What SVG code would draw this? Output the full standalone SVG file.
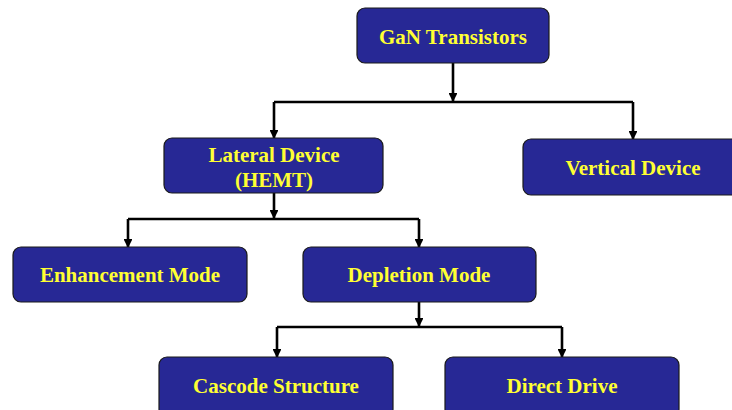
<svg xmlns="http://www.w3.org/2000/svg" width="732" height="410" viewBox="0 0 732 410">
  <style>
    .box { fill: #272895; stroke: #1a1a1a; stroke-width: 1.2; }
    .label { font-family: "Liberation Serif", "Times New Roman", serif; font-weight: bold; font-size: 21px; fill: #FFFF33; text-anchor: middle; }
    .wire { fill: none; stroke: #000; stroke-width: 2.6; stroke-linejoin: miter; }
    .arrow { fill: none; stroke: #000; stroke-width: 2.6; marker-end: url(#head); }
  </style>
  <defs>
    <marker id="head" viewBox="0 0 10 10" refX="9" refY="5" markerWidth="3.4" markerHeight="3.4" markerUnits="strokeWidth" orient="auto">
      <path d="M0,0 L10,5 L0,10 z" fill="#000"/>
    </marker>
  </defs>
  <rect width="732" height="410" fill="#fff"/>

  <!-- connectors -->
  <g id="connectors">
    <!-- root to first level -->
    <path class="arrow" d="M453,63 V101"/>
    <path class="wire" d="M274,102 H633"/>
    <path class="arrow" d="M274,102 V138"/>
    <path class="arrow" d="M633,102 V139"/>
    <!-- lateral device to modes -->
    <path class="arrow" d="M274,193 V218"/>
    <path class="wire" d="M128,219 H419"/>
    <path class="arrow" d="M128,219 V247"/>
    <path class="arrow" d="M419,219 V247"/>
    <!-- depletion mode to drive schemes -->
    <path class="arrow" d="M419,302 V326"/>
    <path class="wire" d="M277,327 H562"/>
    <path class="arrow" d="M277,327 V357"/>
    <path class="arrow" d="M562,327 V357"/>
  </g>

  <g id="gan-transistors">
    <rect class="box" x="357" y="8" width="192" height="55" rx="8"/>
    <text class="label" x="453" y="44">GaN Transistors</text>
  </g>

  <g id="lateral-device">
    <rect class="box" x="164" y="138" width="219" height="55" rx="8"/>
    <text class="label" x="274" y="162">Lateral Device</text>
    <text class="label" x="274" y="187">(HEMT)</text>
  </g>

  <g id="vertical-device">
    <rect class="box" x="523" y="139" width="218" height="56" rx="8"/>
    <text class="label" x="633" y="175">Vertical Device</text>
  </g>

  <g id="enhancement-mode">
    <rect class="box" x="13" y="247" width="234" height="55" rx="8"/>
    <text class="label" x="130" y="282">Enhancement Mode</text>
  </g>

  <g id="depletion-mode">
    <rect class="box" x="303" y="247" width="233" height="55" rx="8"/>
    <text class="label" x="419" y="282">Depletion Mode</text>
  </g>

  <g id="cascode-structure">
    <rect class="box" x="159" y="357" width="234" height="60" rx="8"/>
    <text class="label" x="276" y="393">Cascode Structure</text>
  </g>

  <g id="direct-drive">
    <rect class="box" x="445" y="357" width="234" height="60" rx="8"/>
    <text class="label" x="562" y="393">Direct Drive</text>
  </g>
</svg>
